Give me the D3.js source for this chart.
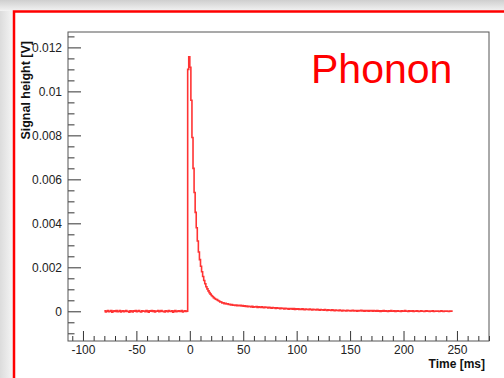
<!DOCTYPE html>
<html>
<head>
<meta charset="utf-8">
<script src="https://cdn.jsdelivr.net/npm/d3@7"></script>
<style>
  html, body { margin: 0; padding: 0; background: #fff; }
  svg { display: block; }
  text { font-family: "Liberation Sans", Arial, Helvetica, sans-serif; }
</style>
</head>
<body>
<svg id="chart" width="504" height="378"></svg>
<script>
// ---- data ----
const binStart = -80;   // ms, left edge of the first bin
const binWidth = 1;     // ms
// pre-trigger baseline, t = -80 .. -3 ms
const baseline = [
  0.00002,-0.00003,0.00001,0.00004,-0.00002,0,0.00003,-0.00004,0.00001,0.00002,-0.00001,0.00003,-0.00002,0,0.00004,-0.00003,0.00001,0.00002,-0.00002,0.00001,
  0.00003,-0.00001,0,-0.00004,0.00002,0.00001,-0.00003,0.00002,0,0.00003,-0.00002,0.00001,0.00004,-0.00001,-0.00003,0.00002,0,0.00001,-0.00002,0.00003,
  0.00001,-0.00004,0.00002,0,0.00003,-0.00001,0.00002,-0.00003,0.00001,0,0.00004,-0.00002,0.00001,0.00003,-0.00001,0,-0.00003,0.00002,0.00001,-0.00002,
  0.00003,0,-0.00001,0.00002,-0.00004,0.00001,0.00003,-0.00002,0,0.00002,-0.00001,0.00001,0.00004,-0.00003,0,0.00002,-0.00001,0.00001
];
// pulse, t = -2 .. 22 ms
const pulse = [
  0.0110,0.01157,0.0111,0.0096,0.0079,0.0065,0.0054,0.0045,0.0038,0.0032,
  0.0027,0.00235,0.00205,0.0018,0.00158,0.0014,0.00125,0.00112,0.00102,0.00093,
  0.00085,0.00078,0.00072,0.00067,0.00062
];
// slow tail, t = 23 .. 100 ms
const tailNear = [
  0.00058,0.00055,0.00053,0.00049,0.00047,0.00043,0.00042,0.00038,0.00039,0.00035,0.00036,0.00033,0.00034,0.00031,0.00032,0.00029,0.00031,0.00028,
  0.00029,0.00027,0.00028,0.00026,0.00027,0.00025,0.00027,0.00024,0.00026,0.00023,0.00025,0.00022,0.00024,0.00021,0.00023,0.00022,0.00020,0.00023,0.00019,0.00021,
  0.00020,0.00022,0.00018,0.00021,0.00019,0.00017,0.00020,0.00018,0.00016,0.00019,0.00017,0.00018,0.00015,0.00018,0.00016,0.00014,0.00017,0.00015,0.00016,0.00013,
  0.00016,0.00014,0.00015,0.00012,0.00015,0.00013,0.00014,0.00011,0.00014,0.00012,0.00013,0.00010,0.00013,0.00011,0.00012,0.00010,0.00012,0.00009,0.00011,0.00010
];
// far tail, t = 101 .. 245 ms
const tailFar = [
  0.00011,0.00009,0.00010,0.00008,0.00011,0.00009,0.00007,0.00010,0.00008,0.00009,
  0.00007,0.00010,0.00008,0.00006,0.00009,0.00007,0.00008,0.00006,0.00009,0.00007,
  0.00005,0.00008,0.00006,0.00007,0.00005,0.00008,0.00006,0.00004,0.00007,0.00005,
  0.00006,0.00004,0.00007,0.00005,0.00003,0.00006,0.00004,0.00005,0.00003,0.00006,
  0.00004,0.00002,0.00005,0.00003,0.00004,0.00002,0.00005,0.00003,0.00004,0.00002,
  0.00003,0.00005,0.00002,0.00004,0.00003,0.00001,0.00004,0.00002,0.00003,0.00005,
  0.00002,0.00003,0.00001,0.00004,0.00002,0.00003,0.00001,0.00003,0.00002,0.00004,
  0.00001,0.00003,0.00002,0,0.00003,0.00001,0.00002,-0.00001,0.00002,0.00001,
  0.00003,0,0.00002,0.00001,-0.00001,0.00002,0,0.00003,0.00001,0,
  0.00002,-0.00001,0.00001,0.00002,0,0.00001,-0.00001,0.00002,0.00001,0,
  0.00003,0,0.00001,-0.00001,0.00002,0,0.00001,0.00002,-0.00001,0.00001,
  0,0.00002,0.00001,-0.00001,0,0.00002,0.00001,0,-0.00001,0.00001,
  0.00002,0,0.00001,-0.00001,0.00001,0,0.00002,-0.00001,0,0.00001,
  0,0.00001,-0.00001,0,0.00002,0,-0.00001,0.00001,0,0.00001,
  0,-0.00001,0.00001,0,0.00001
];
const xMajorTicks = [-100,-50,0,50,100,150,200,250];
const yMajorTicks = [0,0.002,0.004,0.006,0.008,0.01,0.012];
const xTitle = "Time [ms]";
const yTitle = "Signal height [V]";
const label = "Phonon";

// ---- layout ----
const svg = d3.select("#chart");
const W = 504, H = 378;
const plot = {left: 68, right: 489, top: 32, bottom: 341};

// background: grey shadow + red-bordered canvas
const defs = svg.append("defs");
const gTop = defs.append("linearGradient").attr("id","shTop").attr("x1",0).attr("y1",0).attr("x2",0).attr("y2",1);
gTop.append("stop").attr("offset","0%").attr("stop-color","#cfcfcf");
gTop.append("stop").attr("offset","100%").attr("stop-color","#f3f3f3");
const gLeft = defs.append("linearGradient").attr("id","shLeft").attr("x1",0).attr("y1",0).attr("x2",1).attr("y2",0);
gLeft.append("stop").attr("offset","0%").attr("stop-color","#dcdcdc");
gLeft.append("stop").attr("offset","100%").attr("stop-color","#f5f5f5");
svg.append("rect").attr("x",0).attr("y",0).attr("width",W).attr("height",H).attr("fill","#f1f1f1");
svg.append("rect").attr("x",0).attr("y",0).attr("width",W).attr("height",11).attr("fill","url(#shTop)");
svg.append("rect").attr("x",0).attr("y",11).attr("width",13).attr("height",H).attr("fill","url(#shLeft)");
svg.append("rect").attr("x",14).attr("y",11.5).attr("width",W+40).attr("height",H+40)
  .attr("fill","#fff").attr("stroke","#ff0000").attr("stroke-width",2.5);

// scales
const x = d3.scaleLinear().domain([-114, 280]).range([plot.left, plot.right]);
const y = d3.scaleLinear().domain([-0.00135, 0.0127]).range([plot.bottom, plot.top]);

// histogram
const signal = [].concat(baseline, pulse, tailNear, tailFar);
const pts = signal.map((v, i) => [binStart + i * binWidth, v]);
pts.push([binStart + signal.length * binWidth, signal[signal.length - 1]]);
const line = d3.line().x(d => x(d[0])).y(d => y(d[1])).curve(d3.curveStepAfter);
svg.append("path").datum(pts).attr("d", line)
  .attr("fill","none").attr("stroke","#ff0000").attr("stroke-width",1.6).attr("stroke-opacity",0.8);

// axes
const tickFmt = d => String(d);
const xMinor = d3.range(-110, 281, 10).filter(v => !xMajorTicks.includes(v));
const yMinor = d3.range(-0.001, 0.0126, 0.0005).map(v => +v.toFixed(4)).filter(v => !yMajorTicks.some(t => Math.abs(t - v) < 1e-9));

svg.append("g").attr("transform", `translate(0,${plot.bottom})`)
  .call(d3.axisBottom(x).tickValues(xMajorTicks).tickFormat(tickFmt).tickSize(-10).tickPadding(4));
svg.append("g").attr("transform", `translate(0,${plot.bottom})`)
  .call(d3.axisBottom(x).tickValues(xMinor).tickFormat("").tickSize(-5));
svg.append("g").attr("transform", `translate(${plot.left},0)`)
  .call(d3.axisLeft(y).tickValues(yMajorTicks).tickFormat(tickFmt).tickSize(-13).tickPadding(6));
svg.append("g").attr("transform", `translate(${plot.left},0)`)
  .call(d3.axisLeft(y).tickValues(yMinor).tickFormat("").tickSize(-6.5));

svg.selectAll(".domain").remove();
svg.selectAll(".tick line").attr("stroke","#333").attr("stroke-width",1);
svg.selectAll(".tick text").attr("fill","#222").style("font-size","12px")
  .style("font-family","'Liberation Sans', Arial, sans-serif");

// frame
svg.append("rect").attr("x",plot.left).attr("y",plot.top)
  .attr("width",plot.right-plot.left).attr("height",plot.bottom-plot.top)
  .attr("fill","none").attr("stroke","#555").attr("stroke-width",1);

// titles
svg.append("text").attr("x", 485).attr("y", 367.5).attr("text-anchor","end")
  .attr("font-weight","bold").attr("font-size","12px").attr("fill","#111").text(xTitle);
svg.append("text").attr("transform","translate(30,41) rotate(-90)").attr("text-anchor","end")
  .attr("font-weight","bold").attr("font-size","12.5px").attr("fill","#111").text(yTitle);

// label
svg.append("text").attr("x", 311).attr("y", 83).attr("font-size","41px")
  .attr("fill","#ff0000").text(label);
</script>
</body>
</html>
